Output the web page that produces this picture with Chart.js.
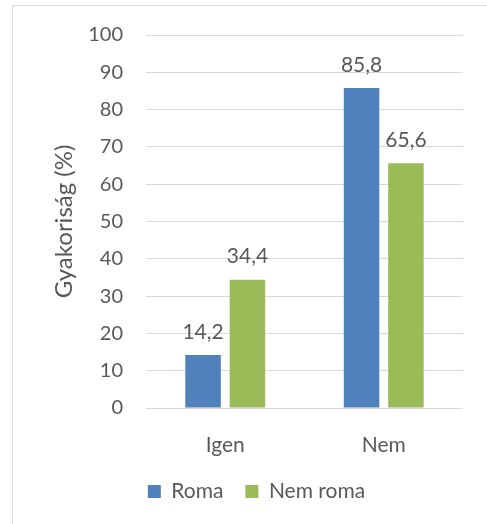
<!DOCTYPE html>
<html>
<head>
<meta charset="utf-8">
<script src="https://cdn.jsdelivr.net/npm/chart.js@4/dist/chart.umd.min.js"></script>
<style>
  html, body { margin: 0; padding: 0; background: #ffffff; }
  #wrap { width: 487px; height: 524px; position: relative; }
</style>
</head>
<body>
<div id="wrap"><canvas id="chart" width="487" height="524"></canvas></div>
<script>
// Válaszok megoszlása csoportonként
const categories = ['Igen', 'Nem'];
const seriesNames = ['Roma', 'Nem roma'];
const romaValues = [14.2, 85.8];
const nemRomaValues = [34.4, 65.6];
const yTicks = [0, 10, 20, 30, 40, 50, 60, 70, 80, 90, 100];

const TEXT = '#595959';
const GRID = '#D9D9D9';
const FONT = 'Lato, "Open Sans", sans-serif';

// Frame around the chart area of the page
const framePlugin = {
  id: 'frame',
  beforeDraw(chart) {
    const ctx = chart.ctx;
    ctx.save();
    ctx.fillStyle = '#ffffff';
    ctx.fillRect(0, 0, chart.width, chart.height);
    ctx.strokeStyle = GRID;
    ctx.lineWidth = 1;
    ctx.strokeRect(12.5, 5.5, 600, 600);
    ctx.restore();
  }
};

// Value labels above each bar, decimal comma
const valueLabels = {
  id: 'valueLabels',
  afterDatasetsDraw(chart) {
    const ctx = chart.ctx;
    ctx.save();
    ctx.font = '21px ' + FONT;
    ctx.fillStyle = TEXT;
    ctx.textAlign = 'center';
    ctx.textBaseline = 'middle';
    chart.data.datasets.forEach((ds, di) => {
      const meta = chart.getDatasetMeta(di);
      meta.data.forEach((bar, i) => {
        const v = ds.data[i];
        ctx.fillText(v.toFixed(1).replace('.', ','), bar.x, bar.y - 23);
      });
    });
    ctx.restore();
  }
};

new Chart(document.getElementById('chart'), {
  type: 'bar',
  data: {
    labels: categories,
    datasets: [
      { label: seriesNames[0], data: romaValues, backgroundColor: '#4F81BD' },
      { label: seriesNames[1], data: nemRomaValues, backgroundColor: '#9BBB59' }
    ]
  },
  options: {
    responsive: false,
    animation: false,
    devicePixelRatio: 1,
    layout: { padding: { left: 50, right: 24, top: 35, bottom: 12 } },
    datasets: {
      bar: { categoryPercentage: 0.56, barPercentage: 0.8 }
    },
    scales: {
      x: {
        grid: { display: false },
        border: { display: false },
        ticks: { color: TEXT, font: { family: FONT, size: 21 }, padding: 17 },
        afterFit(scale) { scale.height = 51; }
      },
      y: {
        min: 0,
        max: 100,
        afterBuildTicks(scale) { scale.ticks = yTicks.map(v => ({ value: v })); },
        grid: { color: GRID, lineWidth: 1, drawTicks: false },
        border: { display: false },
        ticks: { color: TEXT, font: { family: FONT, size: 20 }, padding: 23 },
        title: {
          display: true,
          text: 'Gyakoriság (%)',
          color: TEXT,
          font: { family: FONT, size: 24 },
          padding: { top: 0, bottom: 4 }
        },
        afterFit(scale) { scale.width = 96; }
      }
    },
    plugins: {
      legend: {
        position: 'bottom',
        labels: {
          color: TEXT,
          font: { family: FONT, size: 21 },
          boxWidth: 13,
          boxHeight: 13,
          padding: 22
        }
      },
      tooltip: { enabled: false }
    }
  },
  plugins: [framePlugin, valueLabels]
});
</script>
</body>
</html>
